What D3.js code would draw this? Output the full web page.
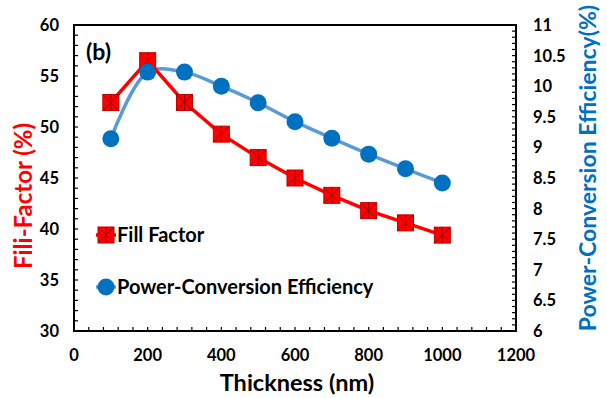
<!DOCTYPE html>
<html>
<head>
<meta charset="utf-8">
<script src="https://cdn.jsdelivr.net/npm/d3@7"></script>
<style>
  body { margin: 0; background: #fff; }
  text { font-family: Lato, "Open Sans", sans-serif; font-weight: bold; }
</style>
</head>
<body>
<svg id="chart" width="607" height="398"></svg>
<script>
// data
var thickness = [100, 200, 300, 400, 500, 600, 700, 800, 900, 1000]
var fillFactor = [52.4, 56.5, 52.4, 49.3, 47.0, 45.0, 43.3, 41.8, 40.6, 39.4]
var pce = [9.14, 10.23, 10.23, 10.0, 9.73, 9.42, 9.15, 8.89, 8.65, 8.42]
var xTicks = [0, 200, 400, 600, 800, 1000, 1200]
var ffTicks = [30, 35, 40, 45, 50, 55, 60]
var pceTicks = [6, 6.5, 7, 7.5, 8, 8.5, 9, 9.5, 10, 10.5, 11]

// plot box (window.top is read-only, so don't call it top)
var pL = 74, pR = 516, pT = 25, pB = 331
var svg = d3.select('#chart')

var x = d3.scaleLinear().domain([0, 1200]).range([pL, pR])
var yL = d3.scaleLinear().domain([30, 60]).range([pB, pT])
var yR = d3.scaleLinear().domain([6, 11]).range([pB, pT])

// frame
svg.append('rect')
  .attr('x', pL).attr('y', pT)
  .attr('width', pR - pL).attr('height', pB - pT)
  .attr('fill', 'none').attr('stroke', '#000').attr('stroke-width', 2)

// minor ticks (inward)
var g = svg.append('g').attr('stroke', '#000').attr('stroke-width', 1.2)
d3.range(30, 61, 1).forEach(function(v) {
  g.append('line').attr('x1', pL).attr('x2', pL + 4).attr('y1', yL(v)).attr('y2', yL(v))
})
d3.range(0, 1201, 40).forEach(function(v) {
  g.append('line').attr('x1', x(v)).attr('x2', x(v)).attr('y1', pB).attr('y2', pB - 4)
})
d3.range(60, 111, 1).forEach(function(v) {
  g.append('line').attr('x1', pR).attr('x2', pR - 4).attr('y1', yR(v / 10)).attr('y2', yR(v / 10))
})

// tick labels
svg.selectAll('.lt').data(ffTicks).enter().append('text')
  .attr('x', 59).attr('y', function(d) { return yL(d) + 6 })
  .attr('text-anchor', 'end').attr('font-size', 16.5).text(function(d) { return d })
svg.selectAll('.bt').data(xTicks).enter().append('text')
  .attr('x', function(d) { return x(d) }).attr('y', 361)
  .attr('text-anchor', 'middle').attr('font-size', 16.5).text(function(d) { return d })
svg.selectAll('.rt').data(pceTicks).enter().append('text')
  .attr('x', 533).attr('y', function(d) { return yR(d) + 6 })
  .attr('text-anchor', 'start').attr('font-size', 16.5).text(function(d) { return d })

// axis titles
svg.append('text').attr('x', 297).attr('y', 391).attr('text-anchor', 'middle')
  .attr('font-size', 23.5).text('Thickness (nm)')
svg.append('text').attr('transform', 'translate(32,196) rotate(-90)')
  .attr('text-anchor', 'middle').attr('font-size', 24).attr('fill', '#ff0000').text('Fili-Factor (%)')
svg.append('text').attr('transform', 'translate(596,168) rotate(-90)')
  .attr('text-anchor', 'middle').attr('font-size', 23).attr('fill', '#0070c0').text('Power-Conversion Efficiency(%)')

svg.append('text').attr('x', 86).attr('y', 60).attr('font-size', 23).text('(b)')

// markers
function square(sel, cx, cy) {
  var s = 8
  var m = sel.append('g').attr('transform', 'translate(' + cx + ',' + cy + ')')
  m.append('rect').attr('x', -s).attr('y', -s).attr('width', 2 * s).attr('height', 2 * s)
    .attr('fill', '#ff0000').attr('stroke', '#c00000').attr('stroke-width', 1)
  m.append('path').attr('d', 'M' + -s + ',' + -s + 'L' + s + ',' + s + 'M' + s + ',' + -s + 'L' + -s + ',' + s + 'M0,' + -s + 'L0,' + s)
    .attr('stroke', '#900000').attr('stroke-width', 0.8)
}

// PCE line (smoothed)
var pceLine = d3.line().x(function(d, i) { return x(thickness[i]) }).y(function(d) { return yR(d) })
  .curve(d3.curveCatmullRom)
svg.append('path').datum(pce).attr('d', pceLine)
  .attr('fill', 'none').attr('stroke', '#5b9bd5').attr('stroke-width', 3.5)

// FF line
var ffLine = d3.line().x(function(d, i) { return x(thickness[i]) }).y(function(d) { return yL(d) })
svg.append('path').datum(fillFactor).attr('d', ffLine)
  .attr('fill', 'none').attr('stroke', '#ff0000').attr('stroke-width', 3.5)

fillFactor.forEach(function(d, i) { square(svg, x(thickness[i]), yL(d)) })

svg.selectAll('.pc').data(pce).enter().append('circle')
  .attr('cx', function(d, i) { return x(thickness[i]) }).attr('cy', function(d) { return yR(d) })
  .attr('r', 8.5).attr('fill', '#0070c0')

// legend
svg.append('line').attr('x1', 96).attr('x2', 116).attr('y1', 235).attr('y2', 235)
  .attr('stroke', '#ff0000').attr('stroke-width', 3.5)
square(svg, 106, 235)
svg.append('text').attr('x', 117).attr('y', 242).attr('font-size', 20).text('Fill Factor')
svg.append('line').attr('x1', 96).attr('x2', 116).attr('y1', 287).attr('y2', 287)
  .attr('stroke', '#5b9bd5').attr('stroke-width', 3.5)
svg.append('circle').attr('cx', 106).attr('cy', 287).attr('r', 8.5).attr('fill', '#0070c0')
svg.append('text').attr('x', 117).attr('y', 294).attr('font-size', 20).text('Power-Conversion Efficiency')
</script>
</body>
</html>
